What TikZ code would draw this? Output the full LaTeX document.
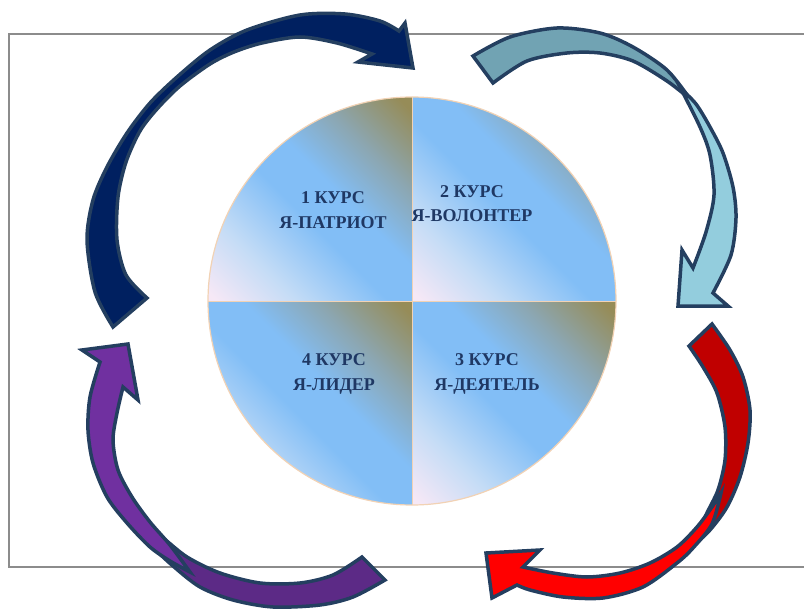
\documentclass[tikz,border=0pt]{standalone}
\usepackage{fontspec}
\setmainfont{Liberation Serif}
\definecolor{qlav}{HTML}{F6E8F6}
\definecolor{qpale}{HTML}{C4DCF6}
\definecolor{qblue}{HTML}{82BEF6}
\definecolor{qgray}{HTML}{8CA6B0}
\definecolor{qolive}{HTML}{968C58}
\definecolor{qedge}{HTML}{F2D2B4}
\definecolor{txtc}{HTML}{1F3864}
\definecolor{frameg}{HTML}{8C8C8C}
\definecolor{aborder}{HTML}{243F60}
\definecolor{navyf}{HTML}{002060}
\definecolor{tealA}{HTML}{71A3B3}
\definecolor{tealB}{HTML}{93CDDD}
\definecolor{redA}{HTML}{C00000}
\definecolor{redB}{HTML}{FF0000}
\definecolor{purA}{HTML}{5C2A86}
\definecolor{purB}{HTML}{7030A0}
\pgfdeclarehorizontalshading{quadgrad}{100bp}{color(0bp)=(qlav); color(16bp)=(qlav); color(30bp)=(qpale); color(46bp)=(qblue); color(56bp)=(qblue); color(69bp)=(qgray); color(83bp)=(qolive); color(100bp)=(qolive)}
\tikzset{
  quad/.style={shading=quadgrad, shading angle=45},
  arrowpart/.style={draw=aborder, line width=3.5pt, line join=miter, miter limit=10},
  lbl/.style={anchor=base, inner sep=0pt, text=txtc, font=\fontsize{18}{20}\selectfont\bfseries},
}
\begin{document}
\begin{tikzpicture}[x=1pt,y=-1pt]
\useasboundingbox (0,0) rectangle (804,610);
% frame
\draw[frameg, line width=2.2pt] (804,34) -- (9,34) -- (9,567) -- (804,567);
% circle quadrants
\shade[quad] (412,301) -- (208,301) arc[start angle=180, end angle=270, radius=204] -- cycle;
\shade[quad] (412,301) -- (412,97) arc[start angle=270, end angle=360, radius=204] -- cycle;
\shade[quad] (412,301) -- (616,301) arc[start angle=0, end angle=90, radius=204] -- cycle;
\shade[quad] (412,301) -- (412,505) arc[start angle=90, end angle=180, radius=204] -- cycle;
\draw[qedge, line width=1.2pt] (412,301) circle[radius=204];
\draw[qedge, line width=1pt] (412,97) -- (412,505) (208,301) -- (616,301);
% labels
\node[lbl] (l1a) at (333,203) {1 КУРС};
\node[lbl] (l1b) at (333,228) {Я-ПАТРИОТ};
\node[lbl] (l2a) at (472,197) {2 КУРС};
\node[lbl] (l2b) at (472,221) {Я-ВОЛОНТЕР};
\node[lbl] (l4a) at (334,365) {4 КУРС};
\node[lbl] (l4b) at (334,390) {Я-ЛИДЕР};
\node[lbl] (l3a) at (487,365) {3 КУРС};
\node[lbl] (l3b) at (487,390) {Я-ДЕЯТЕЛЬ};
% navy arrow
\path[arrowpart, fill=navyf]
  plot[smooth] coordinates {(113,327) (95,292) (87,240) (93,200) (107,167) (127,133) (150,103) (177,77) (210,50) (247,30) (300,15) (345,14) (380,21) (399,31)}
  -- (405,23) -- (413,68) -- (358,62) -- (372,54)
  -- plot[smooth] coordinates {(372,54) (337,43) (300,37) (262,43) (234,52) (210,64) (180,86) (157,109) (140,131) (126,162) (118,197) (117,240) (126,275) (147,298)}
  -- cycle;
% teal arrow
\path[arrowpart, fill=tealA]
  plot[smooth] coordinates {(473,56) (510,37) (557,28) (600,33) (633,47) (667,70) (690,99)}
  -- plot[smooth] coordinates {(690,99) (667,81) (633,61) (600,53) (567,53) (527,61) (493,83)}
  -- cycle;
\path[arrowpart, fill=tealB]
  plot[smooth] coordinates {(681,89) (696,104) (710,127) (723,153) (733,187) (736,218) (731,255) (713,293)}
  -- (728,306) -- (678,306) -- (682,250) -- (693,268)
  -- plot[smooth] coordinates {(693,268) (706,232) (714,195) (710,155) (700,127) (681,89)}
  -- cycle;
% red arrow
\path[arrowpart, fill=redA]
  plot[smooth] coordinates {(712,324) (730,350) (743,377) (750,410) (748,443) (740,477) (727,507) (710,530) (692,547)}
  -- plot[smooth] coordinates {(692,547) (706,515) (718,490) (725,460) (725,427) (717,393) (703,367) (689,346)}
  -- cycle;
\path[arrowpart, fill=redB]
  plot[smooth] coordinates {(721,493) (712,524) (693,548) (677,563) (643,587) (603,598) (563,597) (530,590) (517,585)}
  -- (492,598) -- (486,553) -- (540,550) -- (523,567)
  -- plot[smooth] coordinates {(523,567) (553,573) (587,577) (620,573) (650,563) (677,547) (697,527) (712,507) (721,493)}
  -- cycle;
% purple arrow
\path[arrowpart, fill=purA]
  plot[smooth] coordinates {(385,580) (353,597) (320,605) (273,607) (233,600) (200,587) (173,566) (152,546) (138,527)}
  -- plot[smooth] coordinates {(138,527) (160,536) (187,557) (220,573) (260,583) (300,583) (333,575) (362,557)}
  -- cycle;
\path[arrowpart, fill=purB]
  plot[smooth] coordinates {(190,572) (170,561) (150,547) (127,523) (107,497) (93,463) (88,430) (90,397) (100,362)}
  -- (82,350) -- (128,344) -- (138,400) -- (123,387)
  -- plot[smooth] coordinates {(123,387) (117,413) (113,440) (118,470) (132,497) (150,522) (170,545) (190,572)}
  -- cycle;
\end{tikzpicture}
\end{document}
